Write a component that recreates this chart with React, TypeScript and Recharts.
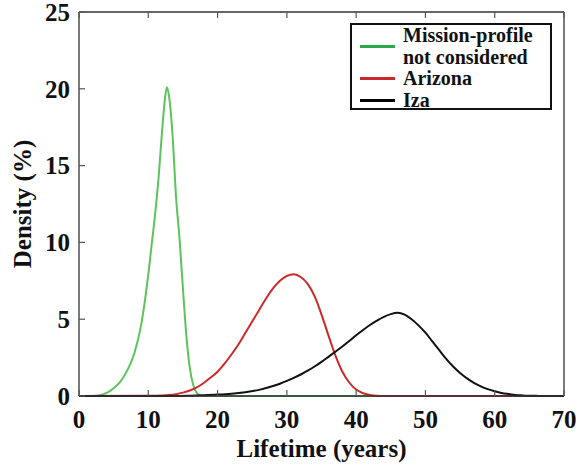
import React from 'react';
import { LineChart, Line, XAxis, YAxis, Legend, Label } from 'recharts';

// Lifetime (years) sample points and density (%) values
const greenYears = [0, 2, 3, 4, 5, 6, 7, 8, 9, 10, 10.5, 11, 11.5, 12, 12.5, 12.7, 13, 13.5, 14, 14.5, 15, 15.5, 16, 16.5, 17, 17.5, 18, 20, 30, 40, 50, 60, 70];
const greenDensity = [0, 0, 0.05, 0.2, 0.5, 0.95, 1.7, 2.8, 4.7, 7.9, 9.9, 11.9, 14.3, 17.3, 19.7, 20.1, 19.5, 17.0, 13.0, 10.3, 7.0, 3.9, 1.8, 0.7, 0.2, 0.05, 0, 0, 0, 0, 0, 0, 0];

const redYears = [0, 10, 12, 13, 14, 15, 16, 17, 18, 19, 20, 21, 22, 23, 24, 25, 26, 27, 28, 29, 30, 31, 32, 33, 34, 35, 36, 37, 38, 39, 40, 41, 42, 43, 44, 50, 60, 70];
const redDensity = [0, 0.01, 0.03, 0.06, 0.12, 0.22, 0.36, 0.56, 0.85, 1.2, 1.58, 2.1, 2.7, 3.35, 4.1, 4.85, 5.6, 6.35, 7.0, 7.5, 7.82, 7.93, 7.75, 7.3, 6.5, 5.3, 3.95, 2.65, 1.6, 0.88, 0.42, 0.18, 0.07, 0.02, 0, 0, 0, 0];

const blackYears = [0, 14, 16, 18, 20, 22, 24, 26, 28, 29, 30, 31, 32, 33, 34, 35, 36, 37, 38, 39, 40, 41, 42, 43, 44, 45, 46, 47, 48, 49, 50, 51, 52, 53, 54, 55, 56, 57, 58, 59, 60, 61, 62, 63, 64, 65, 66, 67, 70];
const blackDensity = [0, 0, 0.02, 0.05, 0.09, 0.15, 0.25, 0.4, 0.65, 0.8, 0.98, 1.18, 1.4, 1.65, 1.92, 2.22, 2.55, 2.88, 3.22, 3.58, 3.95, 4.3, 4.62, 4.9, 5.15, 5.33, 5.42, 5.3, 5.0, 4.6, 4.12, 3.55, 2.98, 2.42, 1.92, 1.5, 1.15, 0.86, 0.63, 0.45, 0.31, 0.2, 0.13, 0.07, 0.04, 0.02, 0.01, 0, 0];

const xTicks = [0, 10, 20, 30, 40, 50, 60, 70];
const yTicks = [0, 5, 10, 15, 20, 25];

const seriesNames = ['Mission-profile\nnot considered', 'Arizona', 'Iza'];
const seriesKeys = ['mission', 'arizona', 'iza'];

// Build merged table (union of x samples)
const allX = Array.from(new Set([...greenYears, ...redYears, ...blackYears])).sort((a, b) => a - b);
const data = allX.map((x) => {
  const gi = greenYears.indexOf(x);
  const ri = redYears.indexOf(x);
  const bi = blackYears.indexOf(x);
  return {
    x,
    mission: gi >= 0 ? greenDensity[gi] : null,
    arizona: ri >= 0 ? redDensity[ri] : null,
    iza: bi >= 0 ? blackDensity[bi] : null,
  };
});

const FONT = "'Liberation Serif', 'Times New Roman', serif";
const axisStroke = '#333';
const tickStroke = '#555';
const TICK_LEN = 6;

const lineColors = ['#5cc45c', '#cc2a2a', '#111111'];
const swatchColors = ['#2aa84c', '#c8282e', '#000000'];

const BottomTick = (props: any) => {
  const { x, y, payload } = props;
  return (
    <g>
      <line x1={x} x2={x} y1={y} y2={y - TICK_LEN} stroke={tickStroke} strokeWidth={1.2} />
      <text x={x} y={y + 14} dy="0.71em" textAnchor="middle" fontSize={25} fontWeight="bold" fontFamily={FONT} fill="#111">
        {payload.value}
      </text>
    </g>
  );
};

const LeftTick = (props: any) => {
  const { x, y, payload } = props;
  return (
    <g>
      <line x1={x} x2={x + TICK_LEN} y1={y} y2={y} stroke={tickStroke} strokeWidth={1.2} />
      <text x={x - 9} y={y} dy="0.355em" textAnchor="end" fontSize={25} fontWeight="bold" fontFamily={FONT} fill="#111">
        {payload.value}
      </text>
    </g>
  );
};

const TopTick = (props: any) => {
  const { x, y } = props;
  return <line x1={x} x2={x} y1={y} y2={y + TICK_LEN} stroke={tickStroke} strokeWidth={1.2} />;
};

const RightTick = (props: any) => {
  const { x, y } = props;
  return <line x1={x} x2={x - TICK_LEN} y1={y} y2={y} stroke={tickStroke} strokeWidth={1.2} />;
};

const LegendBox = () => (
  <div
    style={{
      width: 202,
      height: 87,
      boxSizing: 'border-box',
      border: '2px solid #111',
      background: '#fff',
      fontFamily: FONT,
      fontWeight: 'bold',
      fontSize: 20,
      lineHeight: '21.5px',
      color: '#111',
    }}
  >
    {seriesNames.map((name, i) => (
      <div key={i} style={{ display: 'flex', alignItems: 'center' }}>
        <div style={{ marginLeft: 8, width: 35, height: 3, background: swatchColors[i], flex: 'none' }} />
        <div style={{ marginLeft: 8, whiteSpace: 'pre', textAlign: 'left' }}>{name}</div>
      </div>
    ))}
  </div>
);

export default function App() {
  return (
    <div style={{ position: 'absolute', left: 0, top: 0, width: 578, height: 465, background: '#fff' }}>
      <LineChart width={578} height={465} data={data} margin={{ top: 11, right: 13, left: 0, bottom: 0 }}>
        <XAxis
          xAxisId="b"
          dataKey="x"
          type="number"
          domain={[0, 70]}
          ticks={xTicks}
          height={69}
          tickLine={false}
          tickSize={0}
          tickMargin={0}
          tick={<BottomTick />}
          axisLine={{ stroke: axisStroke, strokeWidth: 1.3 }}
          interval={0}
        >
          <Label value="Lifetime (years)" position="insideBottom" offset={8} style={{ fontSize: 25, fontWeight: 'bold', fontFamily: FONT, fill: '#111' }} />
        </XAxis>
        <XAxis
          xAxisId="t"
          dataKey="x"
          type="number"
          orientation="top"
          domain={[0, 70]}
          ticks={xTicks}
          height={1}
          tickLine={false}
          tickSize={0}
          tickMargin={0}
          tick={<TopTick />}
          axisLine={{ stroke: axisStroke, strokeWidth: 1.3 }}
          interval={0}
        />
        <YAxis
          yAxisId="l"
          type="number"
          domain={[0, 25]}
          ticks={yTicks}
          width={79}
          tickLine={false}
          tickSize={0}
          tickMargin={0}
          tick={<LeftTick />}
          axisLine={{ stroke: axisStroke, strokeWidth: 1.3 }}
          interval={0}
        >
          <Label value="Density (%)" angle={-90} position="insideLeft" offset={22} style={{ fontSize: 25, fontWeight: 'bold', fontFamily: FONT, fill: '#111', textAnchor: 'middle' }} />
        </YAxis>
        <YAxis
          yAxisId="r"
          type="number"
          orientation="right"
          domain={[0, 25]}
          ticks={yTicks}
          width={1}
          tickLine={false}
          tickSize={0}
          tickMargin={0}
          tick={<RightTick />}
          axisLine={{ stroke: axisStroke, strokeWidth: 1.3 }}
          interval={0}
        />
        <Legend
          layout="vertical"
          align="center"
          verticalAlign="middle"
          content={() => <LegendBox />}
          wrapperStyle={{ position: 'absolute', left: 350, top: 23, width: 202, height: 87 }}
        />
        {seriesKeys.map((k, i) => (
          <Line
            key={k}
            xAxisId="b"
            yAxisId="l"
            dataKey={k}
            name={seriesNames[i]}
            type="monotone"
            stroke={lineColors[i]}
            strokeWidth={2}
            dot={false}
            connectNulls
            isAnimationActive={false}
          />
        ))}
      </LineChart>
    </div>
  );
}
